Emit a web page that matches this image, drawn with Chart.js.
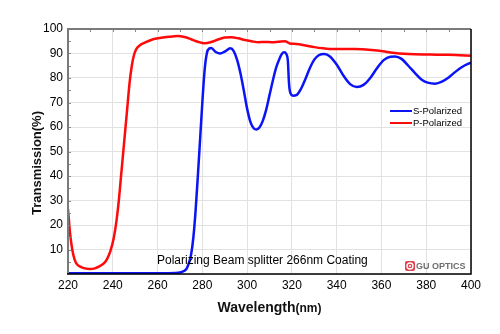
<!DOCTYPE html>
<html>
<head>
<meta charset="utf-8">
<script src="https://cdn.jsdelivr.net/npm/chart.js@4/dist/chart.umd.min.js"></script>
<style>
  html, body { margin: 0; padding: 0; background: #fff; }
  #wrap { width: 500px; height: 334px; }
</style>
</head>
<body>
<div id="wrap"><canvas id="tChart" width="500" height="334"></canvas></div>
<script>
// wavelength (nm) / transmission (%) for the two polarizations
const sWave = [220, 240, 260, 268, 270, 272, 273, 274, 275, 276, 277, 278, 279, 280, 281, 282, 283, 284,
  286, 288, 290, 292.5, 294, 295.5, 297, 298.5, 300, 301.5, 303, 304.2, 305.5, 307, 308.5, 310, 311.5, 313,
  314.5, 315.5, 316.5, 317.5, 318.2, 318.7, 319.2, 320.5, 322, 324, 326, 328, 330, 332, 334.5, 337, 340, 343,
  346, 349, 352, 355, 358, 361, 364, 366, 369, 372, 375, 378, 381, 384, 387, 390, 393, 396, 400];
const sTrans = [0.3, 0.3, 0.3, 0.4, 0.6, 1.3, 2.2, 4.5, 8, 15, 26, 40, 55, 70, 83, 90, 92, 92.2,
  90.6, 90, 90.8, 92.1, 91, 87.5, 82, 75, 67.5, 62, 59.4, 59, 59.8, 62.5, 67, 73, 79, 84.3,
  88, 89.8, 90.5, 89.8, 87, 78, 74.3, 72.8, 73, 75.5, 79.5, 84, 87.5, 89.3, 89.8, 88.8, 85.5, 81,
  77.5, 76.3, 77.2, 80, 84, 87.3, 88.7, 88.8, 87.8, 85, 82, 79.3, 78, 77.7, 78.5, 80.2, 82.5, 84.5, 86.3];

const pWave = [220, 221, 222, 223, 224, 225.5, 227.5, 230, 232, 234, 236, 237.5, 239, 240.5, 241.7, 242.7,
  243.5, 244.5, 245.5, 246.5, 247.5, 248.5, 249.5, 250.5, 252, 254, 258, 261, 265, 269, 272, 275, 278, 281,
  284, 287, 290, 293, 296, 299, 302, 305, 308, 311, 314, 317, 318, 319, 322, 326, 330, 334, 338, 343, 348,
  353, 358, 362, 366, 370, 375, 380, 385, 390, 395, 400];
const pTrans = [26.5, 16, 9.5, 5.8, 4, 3, 2.3, 2, 2.3, 3.1, 4.3, 6.2, 9.5, 15, 22, 30,
  38, 48, 58, 68, 78, 85, 89.5, 91.8, 93.3, 94.3, 95.8, 96.3, 96.8, 97.1, 96.7, 95.8, 94.8, 94.2,
  94.7, 95.7, 96.5, 96.6, 96.2, 95.5, 95, 94.6, 94.7, 94.6, 94.8, 95, 94.6, 94.1, 93.9, 93.3, 92.6, 92.1, 91.8, 91.8, 91.8,
  91.6, 91.2, 90.7, 90.2, 89.9, 89.7, 89.6, 89.5, 89.5, 89.3, 89.1];

const xTicks = [220, 240, 260, 280, 300, 320, 340, 360, 380, 400];
const yTicks = [10, 20, 30, 40, 50, 60, 70, 80, 90, 100];

const seriesNames = ["S-Polarized", "P-Polarized"];
const seriesColors = ["#0a14f5", "#ff0a0a"];
const noteText = "Polarizing Beam splitter 266nm Coating";

const FONT = "'Liberation Sans', Arial, sans-serif";

function toPoints(xs, ys) {
  return xs.map((x, i) => ({ x: x, y: ys[i] }));
}

// frame, minor ticks, axis titles, legend and text labels
const decorations = {
  id: "decorations",
  afterDraw(chart) {
    const ctx = chart.ctx;
    const a = chart.chartArea;
    const xs = chart.scales.x, ys = chart.scales.y;
    ctx.save();

    // minor ticks
    ctx.strokeStyle = "#8a8a8a";
    ctx.lineWidth = 1;
    ctx.beginPath();
    for (let w = 230; w < 400; w += 10) {
      const px = Math.round(xs.getPixelForValue(w)) + 0.5;
      ctx.moveTo(px, a.top); ctx.lineTo(px, a.top + 3);
    }
    for (let v = 5; v < 100; v += 5) {
      const py = Math.round(ys.getPixelForValue(v)) + 0.5;
      ctx.moveTo(a.left, py); ctx.lineTo(a.left + 3, py);
    }
    ctx.stroke();

    // frame: grey left/top, black right/bottom
    ctx.lineWidth = 2;
    ctx.strokeStyle = "#7a7a7a";
    ctx.beginPath();
    ctx.moveTo(a.left, a.bottom); ctx.lineTo(a.left, a.top); ctx.lineTo(a.right, a.top);
    ctx.stroke();
    ctx.lineWidth = 1.5;
    ctx.strokeStyle = "#000";
    ctx.beginPath();
    ctx.moveTo(a.right, a.top); ctx.lineTo(a.right, a.bottom); ctx.lineTo(a.left - 1, a.bottom);
    ctx.stroke();

    // y title
    ctx.fillStyle = "#111";
    ctx.save();
    ctx.translate(37, 163);
    ctx.rotate(-Math.PI / 2);
    ctx.font = "bold 13px " + FONT;
    ctx.textAlign = "center";
    ctx.textBaseline = "middle";
    ctx.fillText("Transmission(%)", 0, 0);
    ctx.restore();

    // x title, unit in a smaller size
    ctx.textBaseline = "alphabetic";
    ctx.textAlign = "left";
    const big = "bold 14px " + FONT, small = "bold 12px " + FONT;
    ctx.font = big;
    const w1 = ctx.measureText("Wavelength").width;
    ctx.font = small;
    const w2 = ctx.measureText("(nm)").width;
    let tx = (a.left + a.right) / 2 - (w1 + w2) / 2;
    ctx.font = big;
    ctx.fillText("Wavelength", tx, 312);
    ctx.font = small;
    ctx.fillText("(nm)", tx + w1, 312);

    // legend
    ctx.font = "9.5px " + FONT;
    ctx.textBaseline = "middle";
    const legY = [111, 123];
    seriesNames.forEach((name, i) => {
      ctx.strokeStyle = seriesColors[i];
      ctx.lineWidth = 2;
      ctx.beginPath();
      ctx.moveTo(390, legY[i]); ctx.lineTo(412, legY[i]);
      ctx.stroke();
      ctx.fillStyle = "#000";
      ctx.fillText(name, 413, legY[i]);
    });

    // note
    ctx.font = "12px " + FONT;
    ctx.fillStyle = "#000";
    ctx.fillText(noteText, 157, 261);

    // GU OPTICS mark
    ctx.fillStyle = "#e0424e";
    ctx.beginPath();
    ctx.roundRect(405, 261, 10, 10, 2);
    ctx.fill();
    ctx.strokeStyle = "#fff";
    ctx.lineWidth = 1.3;
    ctx.beginPath();
    ctx.arc(410, 266, 3, 0, Math.PI * 2);
    ctx.stroke();
    ctx.fillStyle = "#fff";
    ctx.beginPath();
    ctx.arc(410, 266, 1.1, 0, Math.PI * 2);
    ctx.fill();
    ctx.fillStyle = "#6e6e6e";
    ctx.font = "bold 9px " + FONT;
    ctx.fillText("GU OPTICS", 416, 266.5);

    ctx.restore();
  }
};

new Chart(document.getElementById("tChart"), {
  type: "line",
  data: {
    datasets: [
      {
        label: seriesNames[0],
        data: toPoints(sWave, sTrans),
        borderColor: seriesColors[0],
        borderWidth: 2.5,
        pointRadius: 0,
        cubicInterpolationMode: "monotone"
      },
      {
        label: seriesNames[1],
        data: toPoints(pWave, pTrans),
        borderColor: seriesColors[1],
        borderWidth: 2.5,
        pointRadius: 0,
        cubicInterpolationMode: "monotone"
      }
    ]
  },
  options: {
    responsive: false,
    animation: false,
    layout: { padding: { left: 0, right: 29, top: 29, bottom: 0 } },
    scales: {
      x: {
        type: "linear",
        min: 220,
        max: 400,
        afterFit: (s) => { s.height = 60; },
        afterBuildTicks: (s) => { s.ticks = xTicks.map(v => ({ value: v })); },
        ticks: { color: "#000", padding: 4, font: { family: FONT, size: 12 } },
        grid: { color: "#e2e2e2", lineWidth: 1, drawTicks: false },
        border: { display: false }
      },
      y: {
        min: 0,
        max: 100,
        afterFit: (s) => { s.width = 68; },
        afterBuildTicks: (s) => { s.ticks = [0].concat(yTicks).map(v => ({ value: v })); },
        ticks: {
          color: "#000",
          padding: 5,
          font: { family: FONT, size: 12 },
          callback: (v) => (v === 0 ? "" : v)
        },
        grid: { color: "#e2e2e2", lineWidth: 1, drawTicks: false },
        border: { display: false }
      }
    },
    plugins: {
      legend: { display: false },
      tooltip: { enabled: false }
    }
  },
  plugins: [decorations]
});
</script>
</body>
</html>
